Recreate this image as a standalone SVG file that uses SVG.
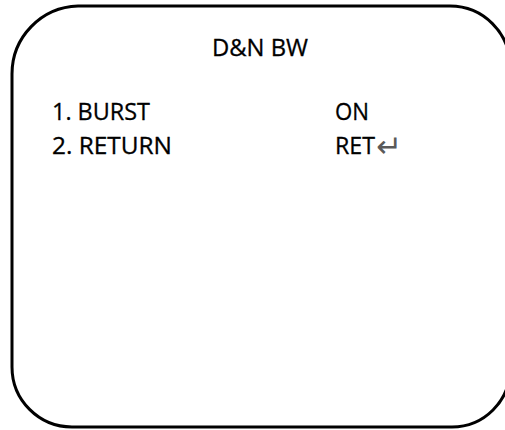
<svg xmlns="http://www.w3.org/2000/svg" width="505" height="430" viewBox="0 0 505 430">
<style>
.t{font-family:"Open Sans","Liberation Sans",sans-serif;font-size:24px;fill:#000;stroke:#000;stroke-width:0.3px;}
.a{font-family:"Liberation Sans","DejaVu Sans",sans-serif;font-size:31px;fill:#5a5a5a;stroke:none;}
</style>
<rect width="505" height="430" fill="#fff"/>
<g id="screen">
<path d="M78,6 H450 A60,60 0 0 1 510,66 V369 A58,58 0 0 1 452,427 H72 A60,60 0 0 1 12,367 V74 A68,68 0 0 1 78,6 Z" fill="none" stroke="#000" stroke-width="3"/>
</g>
<g id="title"><text class="t" x="212" y="56" textLength="96" lengthAdjust="spacingAndGlyphs">D&amp;N BW</text></g>
<g id="item1">
<text class="t" x="52" y="120" textLength="98" lengthAdjust="spacingAndGlyphs">1. BURST</text>
<text class="t" x="335" y="120" textLength="34" lengthAdjust="spacingAndGlyphs">ON</text>
</g>
<g id="item2">
<text class="t" x="52" y="154" textLength="120" lengthAdjust="spacingAndGlyphs">2. RETURN</text>
<text class="t" x="335" y="154"><tspan textLength="40" lengthAdjust="spacingAndGlyphs">RET</tspan><tspan class="a" x="376" y="157">↵</tspan></text>
</g>
</svg>
